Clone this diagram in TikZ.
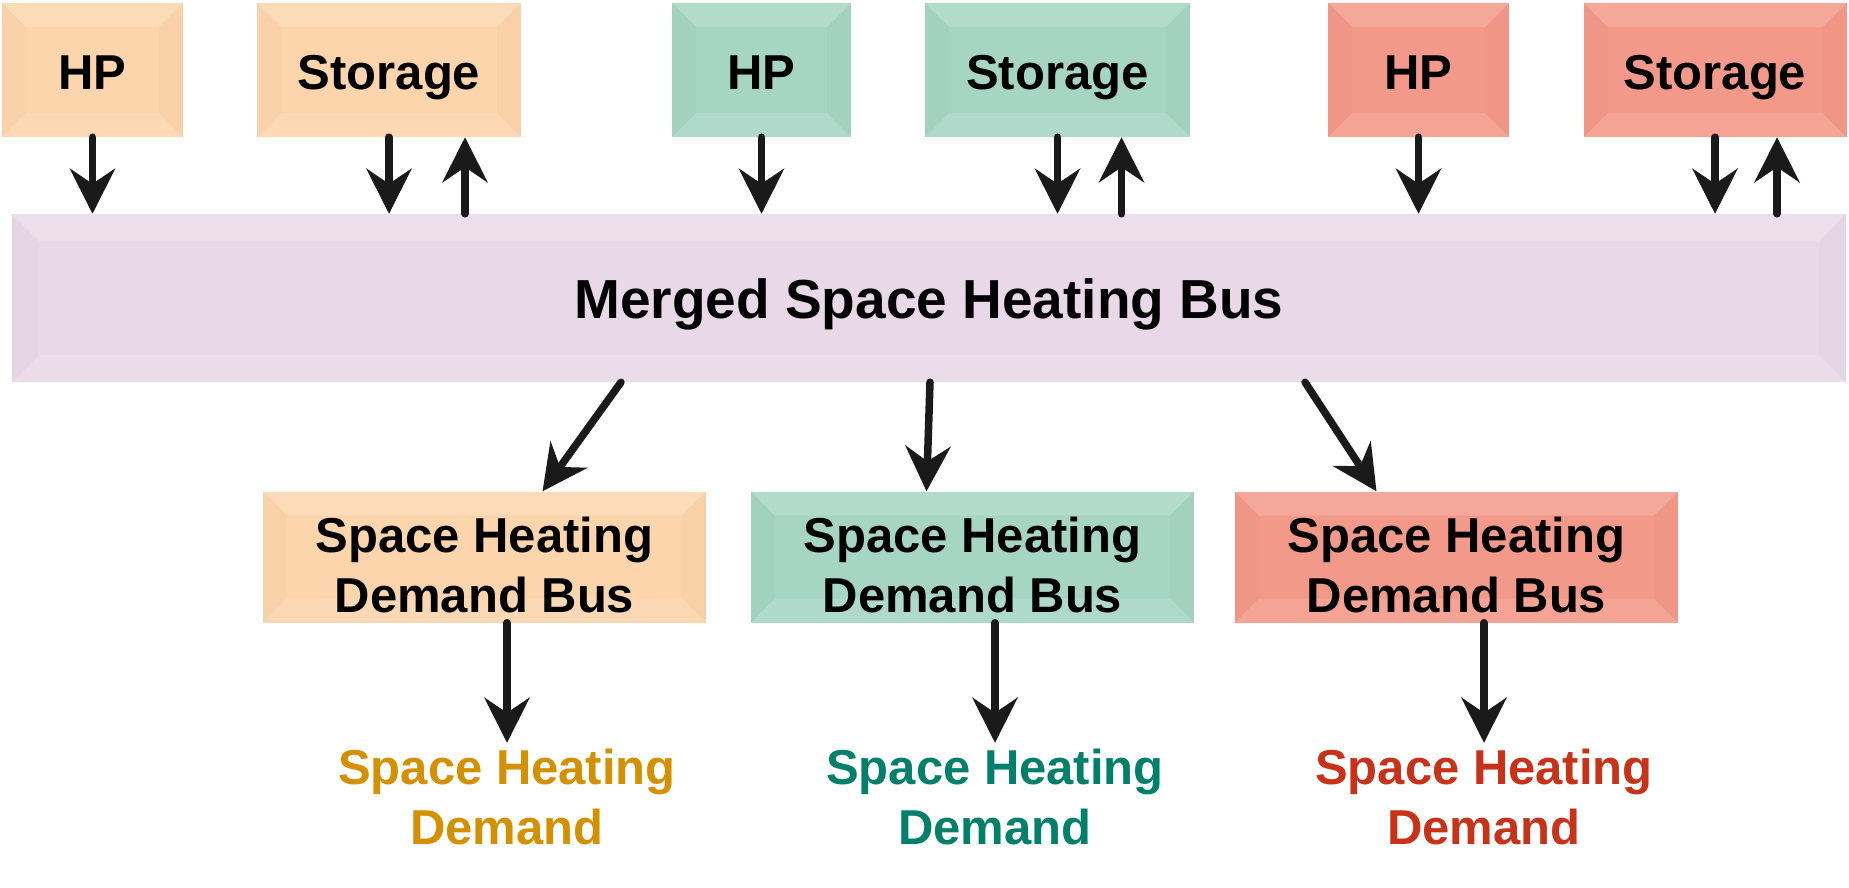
\documentclass[tikz,border=0pt]{standalone}
\usepackage{fontspec}
\setmainfont{Liberation Sans}
\usetikzlibrary{arrows.meta}
\definecolor{peach}{RGB}{252,213,172}
\definecolor{mint}{RGB}{166,213,196}
\definecolor{salmon}{RGB}{243,153,138}
\definecolor{lilac}{RGB}{233,217,232}
\definecolor{ochre}{RGB}{212,144,0}
\definecolor{pine}{RGB}{0,128,106}
\definecolor{brick}{RGB}{200,50,25}
\definecolor{ink}{RGB}{26,26,26}
\tikzset{
	bevel/.style={path picture={
		\coordinate (nw) at (path picture bounding box.north west);
		\coordinate (ne) at (path picture bounding box.north east);
		\coordinate (sw) at (path picture bounding box.south west);
		\coordinate (se) at (path picture bounding box.south east);
		\fill[white,opacity=.15] (nw) -- (ne) -- ([shift={(-#1,-#1)}]ne) -- ([shift={(#1,-#1)}]nw) -- cycle;
		\fill[white,opacity=.1] (sw) -- (se) -- ([shift={(-#1,#1)}]se) -- ([shift={(#1,#1)}]sw) -- cycle;
		\fill[black,opacity=.015] (nw) -- ([shift={(#1,-#1)}]nw) -- ([shift={(#1,#1)}]sw) -- (sw) -- cycle;
		\fill[black,opacity=.015] (ne) -- ([shift={(-#1,-#1)}]ne) -- ([shift={(-#1,#1)}]se) -- (se) -- cycle;
	}},
	unitbox/.style={fill=#1, bevel=24pt, inner sep=0pt, minimum height=134pt, text height=39pt, text depth=0pt, font=\fontsize{49}{60}\selectfont\bfseries},
	busbox/.style={fill=#1, bevel=24pt, inner sep=0pt, minimum width=443pt, minimum height=131pt, align=center, text height=110pt, text depth=0pt, font=\fontsize{49}{60}\selectfont\bfseries},
	demand/.style={inner sep=0pt, align=center, text=#1, font=\fontsize{49}{60}\selectfont\bfseries},
	flow/.style={-{Stealth[length=45pt,width=45pt,inset=15pt]}, line width=7.5pt, draw=ink, line cap=round}
}
\begin{document}
\begin{tikzpicture}[x=1pt,y=-1pt]
	\useasboundingbox (0,0) rectangle (1849,887);
	\node[unitbox=peach, minimum width=181pt] (hpA) at (92.5,70) {HP};
	\node[unitbox=peach, minimum width=264pt] (stA) at (389,70) {Storage};
	\node[unitbox=mint, minimum width=179pt] (hpB) at (761.5,70) {HP};
	\node[unitbox=mint, minimum width=265pt] (stB) at (1057.5,70) {Storage};
	\node[unitbox=salmon, minimum width=181pt] (hpC) at (1418.5,70) {HP};
	\node[unitbox=salmon, minimum width=263pt] (stC) at (1715,70) {Storage};
	\node[fill=lilac, bevel=27pt, inner sep=0pt, minimum width=1834pt, minimum height=168pt, text height=40pt, text depth=0pt, font=\fontsize{55}{66}\selectfont\bfseries] (bus) at (929,298) {Merged Space Heating Bus};
	\node[busbox=peach] (dbA) at (484.5,557) {Space Heating\\Demand Bus};
	\node[busbox=mint] (dbB) at (972.5,557) {Space Heating\\Demand Bus};
	\node[busbox=salmon] (dbC) at (1456.5,557) {Space Heating\\Demand Bus};
	\node[demand=ochre] (dmA) at (507,797) {Space Heating\\Demand};
	\node[demand=pine] (dmB) at (995,797) {Space Heating\\Demand};
	\node[demand=brick] (dmC) at (1484,797) {Space Heating\\Demand};
	\coordinate (upA) at ([xshift=76pt]stA.south);
	\coordinate (upB) at ([xshift=64pt]stB.south);
	\coordinate (upC) at ([xshift=62pt]stC.south);
	\draw[flow] (hpA) -- (hpA |- bus.north);
	\draw[flow] (stA) -- (stA |- bus.north);
	\draw[flow] (upA |- bus.north) -- (upA);
	\draw[flow] (hpB) -- (hpB |- bus.north);
	\draw[flow] (stB) -- (stB |- bus.north);
	\draw[flow] (upB |- bus.north) -- (upB);
	\draw[flow] (hpC) -- (hpC |- bus.north);
	\draw[flow] (stC) -- (stC |- bus.north);
	\draw[flow] (upC |- bus.north) -- (upC);
	\draw[flow] ([xshift=-308pt]bus.south) -- ([xshift=58pt]dbA.north);
	\draw[flow] ([xshift=1pt]bus.south) -- ([xshift=-46pt]dbB.north);
	\draw[flow] ([xshift=376pt]bus.south) -- ([xshift=-80pt]dbC.north);
	\draw[flow] (dmA.north |- dbA.south) -- ([yshift=6pt]dmA.north);
	\draw[flow] (dmB.north |- dbB.south) -- ([yshift=6pt]dmB.north);
	\draw[flow] (dmC.north |- dbC.south) -- ([yshift=6pt]dmC.north);
\end{tikzpicture}
\end{document}
